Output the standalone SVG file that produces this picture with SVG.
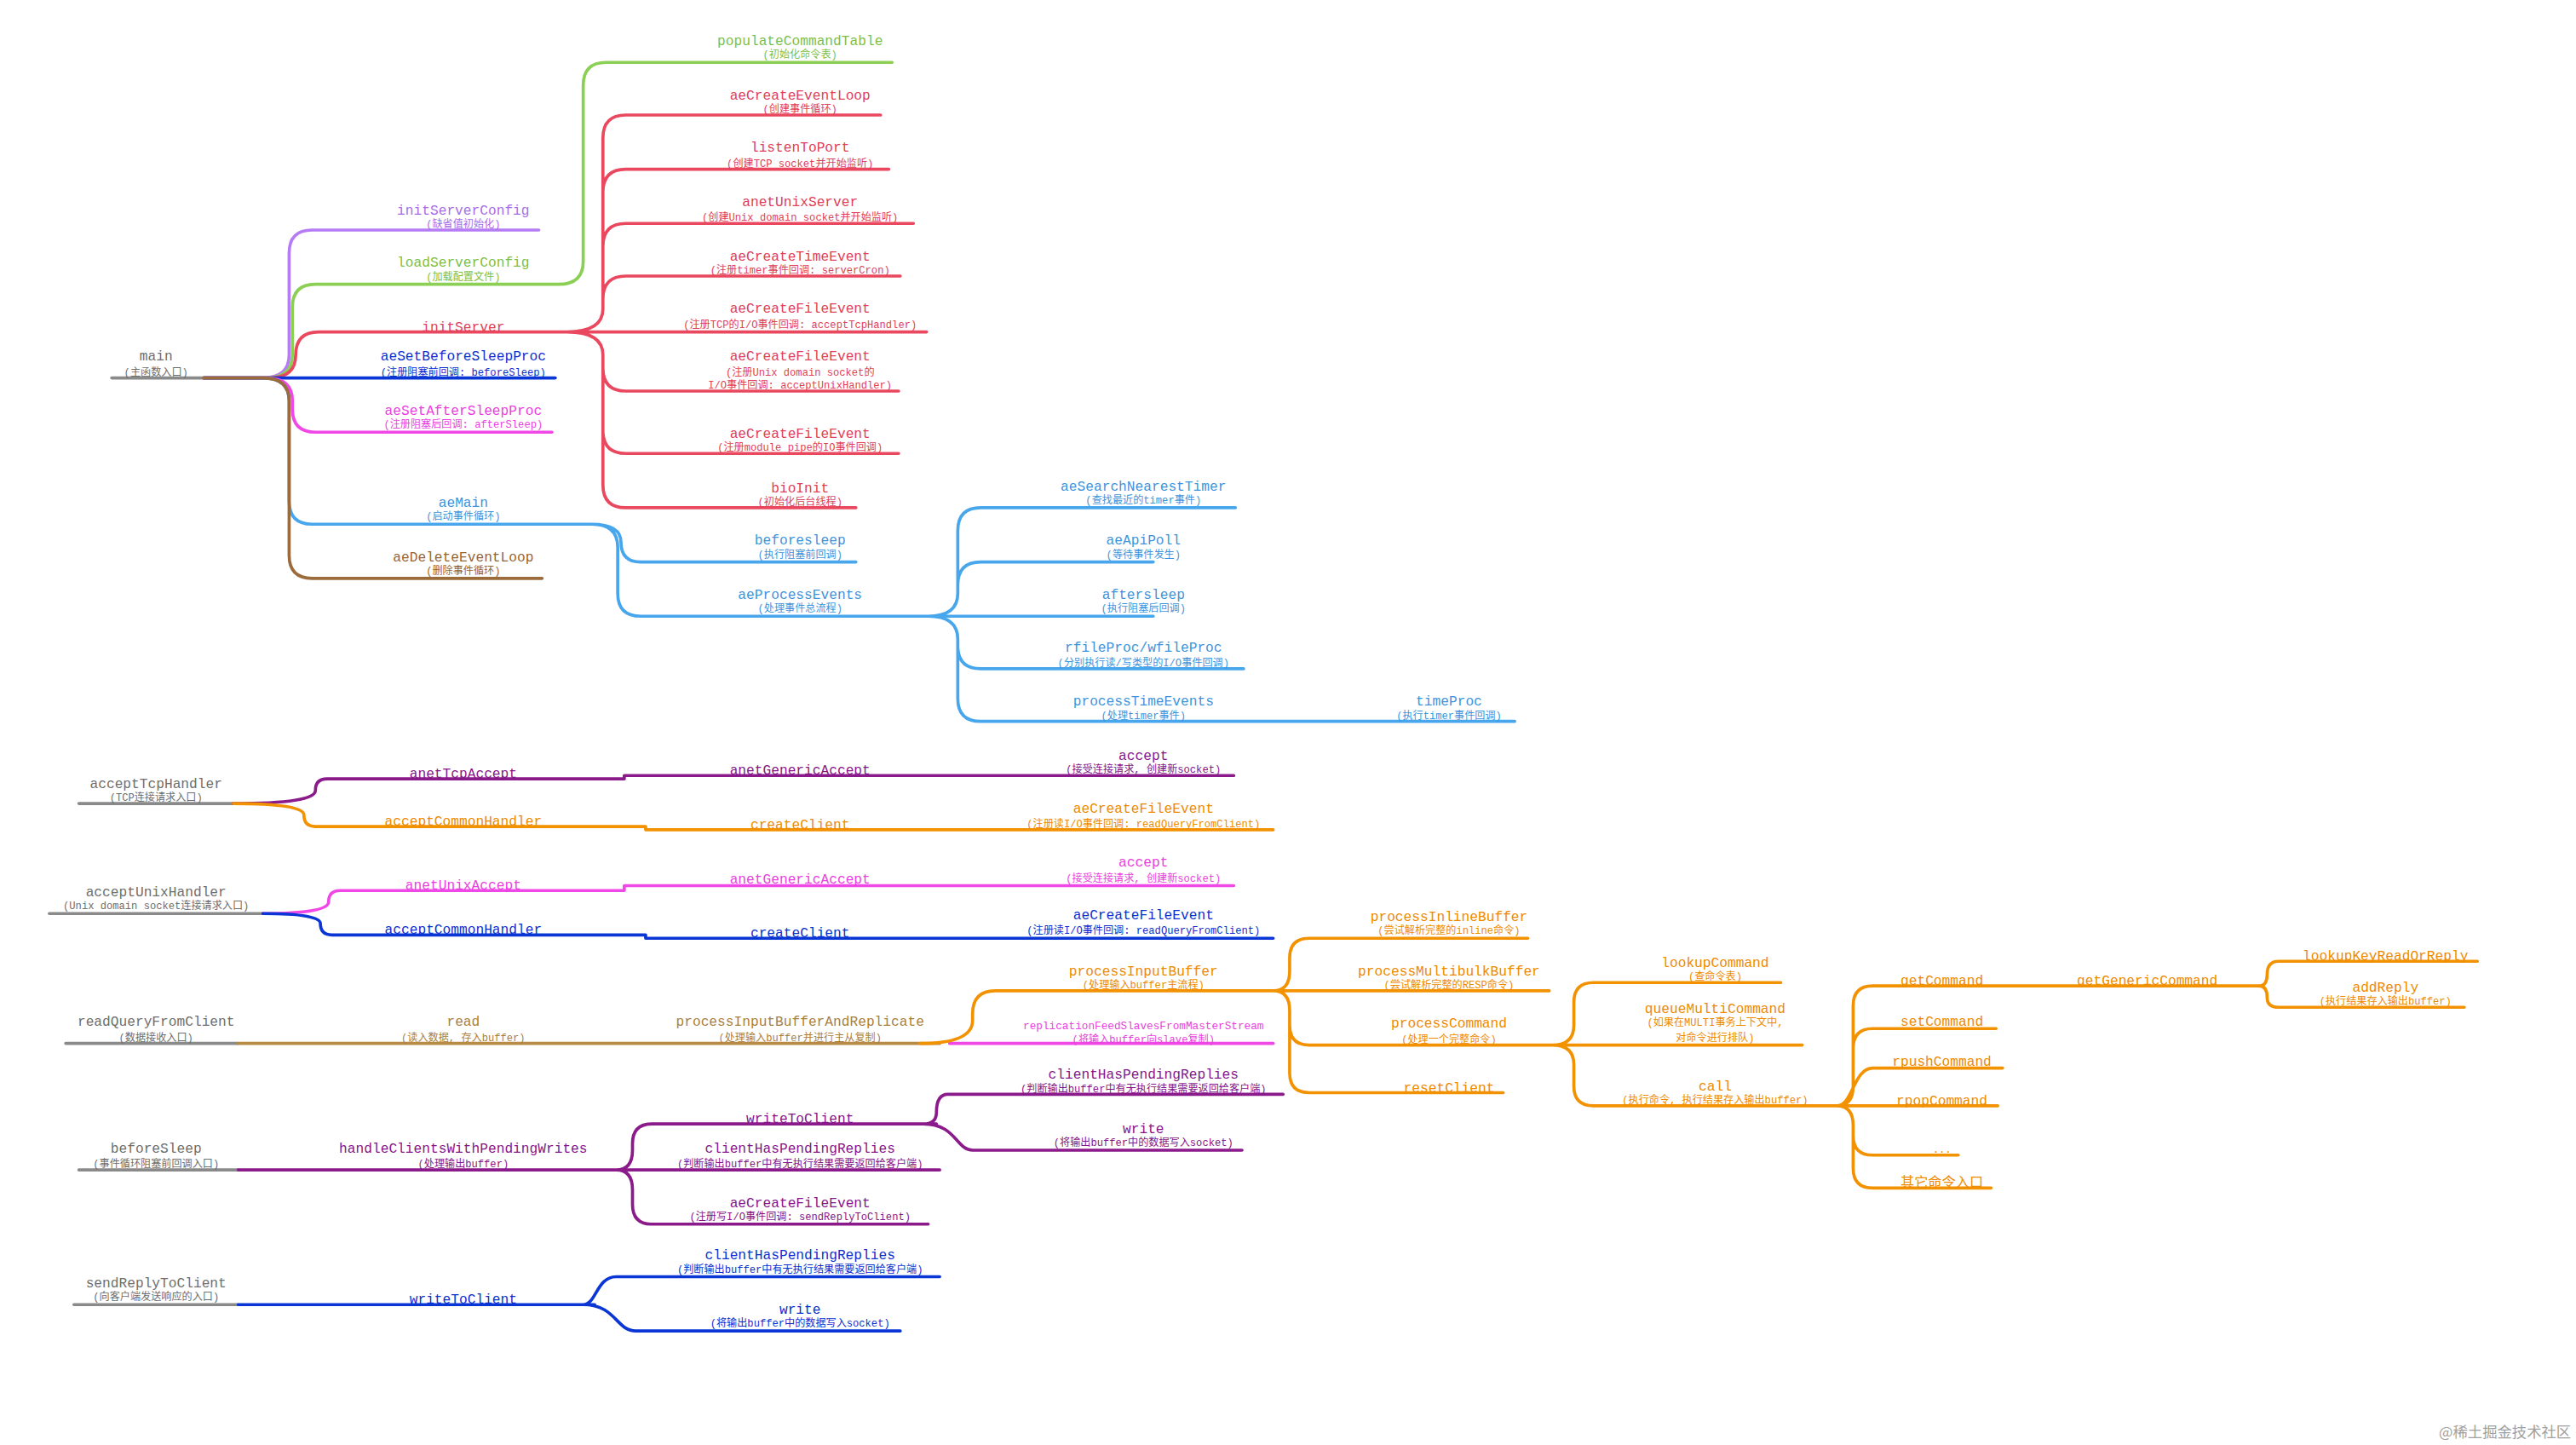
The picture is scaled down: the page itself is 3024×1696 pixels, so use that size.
<svg xmlns="http://www.w3.org/2000/svg" width="3024" height="1696" viewBox="0 0 3024 1696">
<style>
text{text-anchor:middle}
.n{font-family:"Liberation Mono","Noto Sans CJK SC",monospace;font-size:8.4px}
.s{font-family:"Liberation Mono","Noto Sans CJK SC",monospace;font-size:6.3px}
.sm{font-family:"Liberation Mono","Noto Sans CJK SC",monospace;font-size:6.6px}
path{fill:none;stroke-width:1.9;stroke-linecap:round;stroke-linejoin:round}
.gy{fill:#6e6e6e}.pu{fill:#a46ee8}.gr{fill:#7cbf45}.rd{fill:#e0405a}.bl{fill:#0a30d0}.mg{fill:#ea3fe0}.lb{fill:#3d94dc}.br{fill:#946536}.dp{fill:#84168a}.or{fill:#ee8a00}.tn{fill:#a98040}
</style>
<rect width="3024" height="1696" fill="#ffffff"/>
<g transform="scale(1.92857)">
<g id="connectors">
<path stroke="#8a8a8a" d="M68 230L124 230M48 489L142 489M30 556L160 556M40 635L145 635M48 712L145 712M45 794L145 794"/>
<path stroke="#b57cf5" d="M124 230L160 230Q176 230 176 216L176 154Q176 140 190 140L328 140"/>
<path stroke="#8ccf55" d="M124 230L162 230Q178 230 178 216L178 187Q178 173 192 173L340 173Q355 173 355 159L355 52Q355 38 369 38L543 38"/>
<path stroke="#e9485f" d="M124 230L164 230Q180 230 180 216Q180 202 194 202L564 202
M345 202Q367 202 367 188L367 84Q367 70 381 70L536 70
M345 202Q367 202 367 188L367 117Q367 103 381 103L541 103
M345 202Q367 202 367 188L367 150Q367 136 381 136L556 136
M345 202Q367 202 367 188L367 182Q367 168 381 168L548 168
M345 202Q367 202 367 216L367 224Q367 238 381 238L547 238
M345 202Q367 202 367 216L367 262Q367 276 381 276L547 276
M345 202Q367 202 367 216L367 295Q367 309 381 309L521 309"/>
<path stroke="#0a36d6" d="M124 230L338 230"/>
<path stroke="#f048e6" d="M124 230L162 230Q178 230 178 244L178 249Q178 263 192 263L336 263"/>
<path stroke="#48a6ec" d="M124 230L160 230Q176 230 176 244L176 305Q176 319 190 319L360 319
M360 319Q378 319 378 330Q378 342 390 342L521 342
M360 319Q376 319 376 333L376 361Q376 375 390 375L702 375
M565 375Q583 375 583 361L583 323Q583 309 597 309L752 309
M565 375Q583 375 583 361L583 356Q583 342 597 342L702 342
M565 375Q583 375 583 389L583 393Q583 407 597 407L757 407
M565 375Q583 375 583 389L583 425Q583 439 597 439L922 439"/>
<path stroke="#9b6b3b" d="M124 230L160 230Q176 230 176 244L176 338Q176 352 190 352L330 352"/>
<path stroke="#8b1a8b" d="M142 489Q192 489 192 481Q192 474 199 474L380 474L380 472L751 472"/>
<path stroke="#f39200" d="M142 489Q185 489 185 496Q185 503 192 503L393 503L393 505L775 505"/>
<path stroke="#f048e6" d="M160 556Q200 556 200 549Q200 542 207 542L380 542L380 539L751 539"/>
<path stroke="#0a36d6" d="M160 556Q195 556 195 562Q195 569 202 569L393 569L393 571L775 571"/>
<path stroke="#b78a45" d="M145 635L572 635"/>
<path stroke="#f048e6" d="M578 635L775 635"/>
<path stroke="#f39200" d="M560 635Q592 635 592 621L592 617Q592 603 606 603L943 603
M775 603Q785 603 785 591L785 583Q785 571 797 571L930 571
M775 603Q785 603 785 615L785 624Q785 636 797 636L1097 636
M775 603Q785 603 785 615L785 653Q785 665 797 665L915 665
M945 636Q958 636 958 624L958 610Q958 598 970 598L1084 598
M945 636Q958 636 958 648L958 661Q958 673 970 673L1216 673
M1118 673Q1128 673 1128 661L1128 612Q1128 600 1140 600L1375 600
M1375 600Q1380 600 1380 593Q1380 585 1387 585L1508 585
M1375 600Q1380 600 1380 607Q1380 613 1387 613L1500 613
M1118 673Q1128 673 1128 661L1128 638Q1128 626 1140 626L1215 626
M1118 673C1128 673 1128 650 1140 650L1219 650
M1118 673Q1128 673 1128 685L1128 691Q1128 703 1140 703L1192 703
M1118 673Q1128 673 1128 685L1128 711Q1128 723 1140 723L1212 723"/>
<path stroke="#8b1a8b" d="M145 712L572 712
M375 712Q385 712 385 700L385 696Q385 684 397 684L570 684
M562 684Q570 684 570 677Q570 666 577 666L781 666
M562 684C582 684 582 700 592 700L756 700
M375 712Q385 712 385 724L385 733Q385 745 397 745L565 745"/>
<path stroke="#0a36d6" d="M145 794L362 794
M355 794C363 794 363 777 375 777L572 777
M355 794C375 794 375 810 387 810L548 810"/>
</g>
<g transform="translate(0,2.5)">
<g id="main" class="gy"><text class="n" x="95" y="217">main</text><text class="s" x="95" y="226">(主函数入口)</text></g>
<g id="initServerConfig" class="pu"><text class="n" x="282" y="128">initServerConfig</text><text class="s" x="282" y="136">(缺省值初始化)</text></g>
<g id="loadServerConfig" class="gr"><text class="n" x="282" y="160">loadServerConfig</text><text class="s" x="282" y="168">(加载配置文件)</text></g>
<g id="populateCommandTable" class="gr"><text class="n" x="487" y="25">populateCommandTable</text><text class="s" x="487" y="33">(初始化命令表)</text></g>
<g id="initServer" class="rd"><text class="n" x="282" y="199">initServer</text></g>
<g id="aeCreateEventLoop" class="rd"><text class="n" x="487" y="58">aeCreateEventLoop</text><text class="s" x="487" y="66">(创建事件循环)</text></g>
<g id="listenToPort" class="rd"><text class="n" x="487" y="90">listenToPort</text><text class="s" x="487" y="99">(创建TCP socket并开始监听)</text></g>
<g id="anetUnixServer" class="rd"><text class="n" x="487" y="123">anetUnixServer</text><text class="s" x="487" y="132">(创建Unix domain socket并开始监听)</text></g>
<g id="aeCreateTimeEvent" class="rd"><text class="n" x="487" y="156">aeCreateTimeEvent</text><text class="s" x="487" y="164">(注册timer事件回调: serverCron)</text></g>
<g id="aeCreateFileEvent1" class="rd"><text class="n" x="487" y="188">aeCreateFileEvent</text><text class="s" x="487" y="197">(注册TCP的I/O事件回调: acceptTcpHandler)</text></g>
<g id="aeCreateFileEvent2" class="rd"><text class="n" x="487" y="217">aeCreateFileEvent</text><text class="s" x="487" y="226">(注册Unix domain socket的</text><text class="s" x="487" y="234">I/O事件回调: acceptUnixHandler)</text></g>
<g id="aeCreateFileEvent3" class="rd"><text class="n" x="487" y="264">aeCreateFileEvent</text><text class="s" x="487" y="272">(注册module pipe的IO事件回调)</text></g>
<g id="bioInit" class="rd"><text class="n" x="487" y="297">bioInit</text><text class="s" x="487" y="305">(初始化后台线程)</text></g>
<g id="aeSetBeforeSleepProc" class="bl"><text class="n" x="282" y="217">aeSetBeforeSleepProc</text><text class="s" x="282" y="226">(注册阻塞前回调: beforeSleep)</text></g>
<g id="aeSetAfterSleepProc" class="mg"><text class="n" x="282" y="250">aeSetAfterSleepProc</text><text class="s" x="282" y="258">(注册阻塞后回调: afterSleep)</text></g>
<g id="aeMain" class="lb"><text class="n" x="282" y="306">aeMain</text><text class="s" x="282" y="314">(启动事件循环)</text></g>
<g id="beforesleep" class="lb"><text class="n" x="487" y="329">beforesleep</text><text class="s" x="487" y="337">(执行阻塞前回调)</text></g>
<g id="aeProcessEvents" class="lb"><text class="n" x="487" y="362">aeProcessEvents</text><text class="s" x="487" y="370">(处理事件总流程)</text></g>
<g id="aeSearchNearestTimer" class="lb"><text class="n" x="696" y="296">aeSearchNearestTimer</text><text class="s" x="696" y="304">(查找最近的timer事件)</text></g>
<g id="aeApiPoll" class="lb"><text class="n" x="696" y="329">aeApiPoll</text><text class="s" x="696" y="337">(等待事件发生)</text></g>
<g id="aftersleep" class="lb"><text class="n" x="696" y="362">aftersleep</text><text class="s" x="696" y="370">(执行阻塞后回调)</text></g>
<g id="rfileProc" class="lb"><text class="n" x="696" y="394">rfileProc/wfileProc</text><text class="s" x="696" y="403">(分别执行读/写类型的I/O事件回调)</text></g>
<g id="processTimeEvents" class="lb"><text class="n" x="696" y="427">processTimeEvents</text><text class="s" x="696" y="435">(处理timer事件)</text></g>
<g id="timeProc" class="lb"><text class="n" x="882" y="427">timeProc</text><text class="s" x="882" y="435">(执行timer事件回调)</text></g>
<g id="aeDeleteEventLoop" class="br"><text class="n" x="282" y="339">aeDeleteEventLoop</text><text class="s" x="282" y="347">(删除事件循环)</text></g>
<g id="acceptTcpHandler" class="gy"><text class="n" x="95" y="477">acceptTcpHandler</text><text class="s" x="95" y="485">(TCP连接请求入口)</text></g>
<g id="anetTcpAccept" class="dp"><text class="n" x="282" y="471">anetTcpAccept</text></g>
<g id="anetGenericAccept1" class="dp"><text class="n" x="487" y="469">anetGenericAccept</text></g>
<g id="accept1" class="dp"><text class="n" x="696" y="460">accept</text><text class="s" x="696" y="468">(接受连接请求, 创建新socket)</text></g>
<g id="acceptCommonHandler1" class="or"><text class="n" x="282" y="500">acceptCommonHandler</text></g>
<g id="createClient1" class="or"><text class="n" x="487" y="502">createClient</text></g>
<g id="aeCreateFileEvent4" class="or"><text class="n" x="696" y="492">aeCreateFileEvent</text><text class="s" x="696" y="501">(注册读I/O事件回调: readQueryFromClient)</text></g>
<g id="acceptUnixHandler" class="gy"><text class="n" x="95" y="543">acceptUnixHandler</text><text class="s" x="95" y="551">(Unix domain socket连接请求入口)</text></g>
<g id="anetUnixAccept" class="mg"><text class="n" x="282" y="539">anetUnixAccept</text></g>
<g id="anetGenericAccept2" class="mg"><text class="n" x="487" y="535">anetGenericAccept</text></g>
<g id="accept2" class="mg"><text class="n" x="696" y="525">accept</text><text class="s" x="696" y="534">(接受连接请求, 创建新socket)</text></g>
<g id="acceptCommonHandler2" class="bl"><text class="n" x="282" y="566">acceptCommonHandler</text></g>
<g id="createClient2" class="bl"><text class="n" x="487" y="568">createClient</text></g>
<g id="aeCreateFileEvent5" class="bl"><text class="n" x="696" y="557">aeCreateFileEvent</text><text class="s" x="696" y="566">(注册读I/O事件回调: readQueryFromClient)</text></g>
<g id="readQueryFromClient" class="gy"><text class="n" x="95" y="622">readQueryFromClient</text><text class="s" x="95" y="631">(数据接收入口)</text></g>
<g id="read" class="tn"><text class="n" x="282" y="622">read</text><text class="s" x="282" y="631">(读入数据, 存入buffer)</text></g>
<g id="processInputBufferAndReplicate" class="tn"><text class="n" x="487" y="622">processInputBufferAndReplicate</text><text class="s" x="487" y="631">(处理输入buffer并进行主从复制)</text></g>
<g id="processInputBuffer" class="or"><text class="n" x="696" y="591">processInputBuffer</text><text class="s" x="696" y="599">(处理输入buffer主流程)</text></g>
<g id="replicationFeedSlavesFromMasterStream" class="mg"><text class="sm" x="696" y="624">replicationFeedSlavesFromMasterStream</text><text class="s" x="696" y="632">(将输入buffer向slave复制)</text></g>
<g id="processInlineBuffer" class="or"><text class="n" x="882" y="558">processInlineBuffer</text><text class="s" x="882" y="566">(尝试解析完整的inline命令)</text></g>
<g id="processMultibulkBuffer" class="or"><text class="n" x="882" y="591">processMultibulkBuffer</text><text class="s" x="882" y="599">(尝试解析完整的RESP命令)</text></g>
<g id="processCommand" class="or"><text class="n" x="882" y="623">processCommand</text><text class="s" x="882" y="632">(处理一个完整命令)</text></g>
<g id="resetClient" class="or"><text class="n" x="882" y="662">resetClient</text></g>
<g id="lookupCommand" class="or"><text class="n" x="1044" y="586">lookupCommand</text><text class="s" x="1044" y="594">(查命令表)</text></g>
<g id="queueMultiCommand" class="or"><text class="n" x="1044" y="614">queueMultiCommand</text><text class="s" x="1044" y="622">(如果在MULTI事务上下文中,</text><text class="s" x="1044" y="631">对命令进行排队)</text></g>
<g id="call" class="or"><text class="n" x="1044" y="661">call</text><text class="s" x="1044" y="669">(执行命令, 执行结果存入输出buffer)</text></g>
<g id="getCommand" class="or"><text class="n" x="1182" y="597">getCommand</text></g>
<g id="getGenericCommand" class="or"><text class="n" x="1307" y="597">getGenericCommand</text></g>
<g id="lookupKeyReadOrReply" class="or"><text class="n" x="1452" y="582">lookupKeyReadOrReply</text></g>
<g id="addReply" class="or"><text class="n" x="1452" y="601">addReply</text><text class="s" x="1452" y="609">(执行结果存入输出buffer)</text></g>
<g id="setCommand" class="or"><text class="n" x="1182" y="622">setCommand</text></g>
<g id="rpushCommand" class="or"><text class="n" x="1182" y="646">rpushCommand</text></g>
<g id="rpopCommand" class="or"><text class="n" x="1182" y="670">rpopCommand</text></g>
<g id="ellipsis" class="or"><text class="s" x="1182" y="699">...</text></g>
<g id="otherCommands" class="or"><text class="n" x="1182" y="720">其它命令入口</text></g>
<g id="beforeSleep" class="gy"><text class="n" x="95" y="699">beforeSleep</text><text class="s" x="95" y="708">(事件循环阻塞前回调入口)</text></g>
<g id="handleClientsWithPendingWrites" class="dp"><text class="n" x="282" y="699">handleClientsWithPendingWrites</text><text class="s" x="282" y="708">(处理输出buffer)</text></g>
<g id="writeToClient1" class="dp"><text class="n" x="487" y="681">writeToClient</text></g>
<g id="clientHasPendingReplies1" class="dp"><text class="n" x="696" y="654">clientHasPendingReplies</text><text class="s" x="696" y="662">(判断输出buffer中有无执行结果需要返回给客户端)</text></g>
<g id="write1" class="dp"><text class="n" x="696" y="687">write</text><text class="s" x="696" y="695">(将输出buffer中的数据写入socket)</text></g>
<g id="clientHasPendingReplies2" class="dp"><text class="n" x="487" y="699">clientHasPendingReplies</text><text class="s" x="487" y="708">(判断输出buffer中有无执行结果需要返回给客户端)</text></g>
<g id="aeCreateFileEvent6" class="dp"><text class="n" x="487" y="732">aeCreateFileEvent</text><text class="s" x="487" y="740">(注册写I/O事件回调: sendReplyToClient)</text></g>
<g id="sendReplyToClient" class="gy"><text class="n" x="95" y="781">sendReplyToClient</text><text class="s" x="95" y="789">(向客户端发送响应的入口)</text></g>
<g id="writeToClient2" class="bl"><text class="n" x="282" y="791">writeToClient</text></g>
<g id="clientHasPendingReplies3" class="bl"><text class="n" x="487" y="764">clientHasPendingReplies</text><text class="s" x="487" y="772">(判断输出buffer中有无执行结果需要返回给客户端)</text></g>
<g id="write2" class="bl"><text class="n" x="487" y="797">write</text><text class="s" x="487" y="805">(将输出buffer中的数据写入socket)</text></g>
</g>
<text x="1565" y="875" style="text-anchor:end;font-family:'Noto Sans CJK SC',sans-serif;font-size:9px;fill:#a0a0a0">@稀土掘金技术社区</text>
</g>
</svg>
